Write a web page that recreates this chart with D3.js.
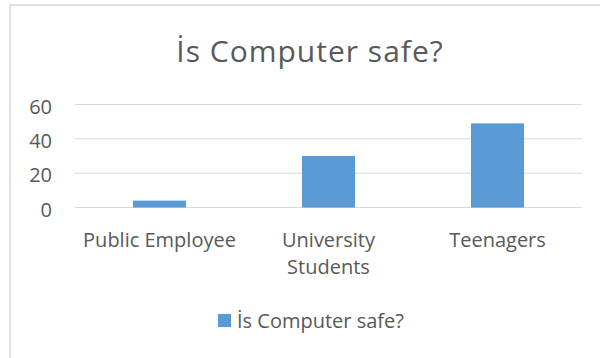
<!DOCTYPE html>
<html>
<head>
<meta charset="utf-8">
<script src="https://cdn.jsdelivr.net/npm/d3@7"></script>
<style>
body{margin:0;background:#fff;}
svg{display:block;}
text{font-family:"Open Sans",sans-serif;fill:#595959;}
</style>
</head>
<body>
<div id="chart"></div>
<script>
//chart data
var categories=[["Public Employee"],["University","Students"],["Teenagers"]];
var values=[4,30,49];
var seriesName="İs Computer safe?";
var yTicks=[0,20,40,60];

var width=600,height=358;
var svg=d3.select("#chart").append("svg")
	.attr("width",width)
	.attr("height",height);
//chart frame (runs off the right and bottom edge)
svg.append("rect")
	.attr("x",10).attr("y",5)
	.attr("width",600).attr("height",400)
	.attr("fill","#fff")
	.attr("stroke","#d9d9d9")
	.attr("stroke-width",1.5);
svg.append("text")
	.attr("x",310).attr("y",62)
	.attr("text-anchor","middle")
	.attr("font-size","30px")
	.attr("letter-spacing","1px")
	.text(seriesName);
var x=d3.scaleBand()
	.domain(d3.range(categories.length))
	.range([75,582])
	.paddingInner(0.686)
	.paddingOuter(0.343);
var y=d3.scaleLinear().domain([0,60]).range([207.5,104.5]);
//gridlines
svg.append("g").selectAll("line").data(yTicks).enter().append("line")
	.attr("x1",75).attr("x2",582)
	.attr("y1",function(d){return y(d);})
	.attr("y2",function(d){return y(d);})
	.attr("stroke","#d9d9d9")
	.attr("stroke-width",1);
//y axis labels
var yAxis=d3.axisLeft(y).tickValues(yTicks).tickSize(0).tickPadding(0);
var gy=svg.append("g").attr("transform","translate(52,0)").call(yAxis);
gy.select(".domain").remove();
gy.selectAll("text").attr("font-size","20px").attr("dy","0.43em")
	.attr("fill","#595959").attr("font-family","Open Sans, sans-serif");
//bars
svg.append("g").selectAll("rect").data(values).enter().append("rect")
	.attr("x",function(d,i){return x(i);})
	.attr("width",x.bandwidth())
	.attr("y",function(d){return y(d);})
	.attr("height",function(d){return y(0)-y(d);})
	.attr("fill","#5b9bd5");
//category labels
var cat=svg.append("g").selectAll("text").data(categories).enter().append("text")
	.attr("text-anchor","middle")
	.attr("font-size","20px");
cat.each(function(lines,i){
	d3.select(this).selectAll("tspan").data(lines).enter().append("tspan")
		.attr("x",x(i)+x.bandwidth()/2)
		.attr("y",function(d,j){return 247+j*27;})
		.text(function(d){return d;});
});
//legend
var lg=svg.append("g");
lg.append("rect").attr("x",218).attr("y",314).attr("width",13).attr("height",13).attr("fill","#5b9bd5");
lg.append("text").attr("x",237).attr("y",328).attr("font-size","20px").text(seriesName);
</script>
</body>
</html>
